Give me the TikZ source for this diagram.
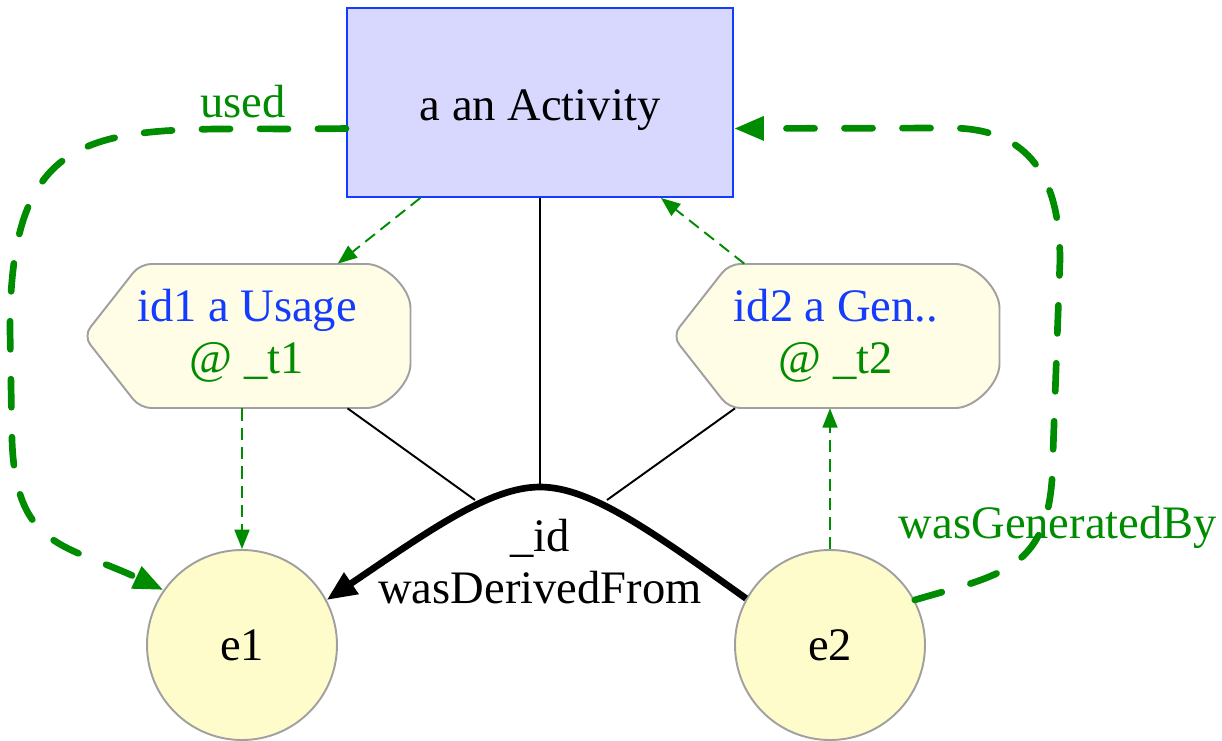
\documentclass[tikz,border=0pt]{standalone}
\usepackage{fontspec}
\setmainfont{Liberation Serif}
\usetikzlibrary{arrows.meta,backgrounds}

\definecolor{actfill}{RGB}{216,216,255}
\definecolor{actline}{RGB}{20,60,255}
\definecolor{evtfill}{RGB}{255,253,230}
\definecolor{entfill}{RGB}{255,252,204}
\definecolor{entline}{RGB}{160,160,160}
\definecolor{provgreen}{RGB}{0,140,0}
\definecolor{provblue}{RGB}{20,60,255}

\tikzset{
  activity/.style={rectangle, draw=actline, fill=actfill, line width=1.1pt, minimum width=7.72cm, minimum height=3.78cm, text height=20pt, text depth=0pt},
  entity/.style={circle, draw=entline, fill=entfill, line width=1.1pt, minimum size=3.8cm, inner sep=0pt},
  event/.style={rectangle, minimum width=6.54cm, minimum height=2.88cm, align=center, inner sep=0pt},
  eventline/.style={draw=entline, fill=evtfill, line width=1.1pt},
  link/.style={provgreen, line width=1.1pt, dash pattern=on 7pt off 4pt, -{Triangle[length=11pt,width=8.5pt]}},
  rel/.style={provgreen, line width=3.8pt, dash pattern=on 16pt off 17pt, line cap=round, -{Triangle[length=17pt,width=13pt]}},
  joinline/.style={black, line width=1.1pt},
  derive/.style={black, line width=3.8pt, -{Triangle[length=17pt,width=14pt]}},
  lbl/.style={inner sep=0pt, align=center}
}

% outline of a usage / generation box, drawn behind its node
\newcommand{\evtshape}[1]{%
  \begin{scope}[on background layer, shift={(#1.center)}]
    \draw[eventline, rounded corners=0.22cm] (-3.27,0) -- (-2.14,1.44) -- (2.17,1.44)
      arc[start angle=90, end angle=0, radius=1.1] -- (3.27,-0.34)
      arc[start angle=0, end angle=-90, radius=1.1] -- (-2.14,-1.44) -- cycle;
  \end{scope}}

\begin{document}
\begin{tikzpicture}[font=\fontsize{26.5}{29.5}\selectfont]
\useasboundingbox (0,0) rectangle (24.44,-14.8);

\node[activity] (act) at (10.8,-2.05) {a an Activity};
\node[event] (use) at (4.94,-6.72) {\textcolor{provblue}{id1 a Usage}\\\textcolor{provgreen}{@ \_t1}};
\node[event] (gen) at (16.72,-6.72) {\textcolor{provblue}{id2 a Gen..}\\\textcolor{provgreen}{@ \_t2}};
\evtshape{use}
\evtshape{gen}
\node[entity] (e1) at (4.84,-12.9) {e1};
\node[entity] (e2) at (16.6,-12.9) {e2};

\node[lbl] (dlbl) at (10.8,-11.23) {\_id\\wasDerivedFrom};
\node[lbl, text=provgreen] (ulbl) at (4.86,-2.03) {used};
\node[lbl, text=provgreen] (glbl) at (21.16,-10.54) {wasGeneratedBy};

% joins of the derivation
\coordinate (jt) at (10.8,-9.74);
\coordinate (jl) at (9.5,-10.0);
\coordinate (jr) at (12.14,-10.0);
\draw[joinline] (act) -- (jt);
\draw[joinline] (use) -- (jl);
\draw[joinline] (gen) -- (jr);
\draw[derive] (e2.151) .. controls (13.0,-10.6) and (11.8,-9.74) .. (jt)
  .. controls (9.8,-9.74) and (8.6,-10.6) .. (e1.28);

% qualified links
\draw[link] (act) -- (use);
\draw[link] (use.south -| e1.north) -- (e1.north);
\draw[link] (e2.north) -- (e2.north |- gen.south);
\draw[link] (gen) -- (act);

% used
\coordinate (ua) at (0.2,-6.6);
\coordinate (ub) at (0.24,-8.8);
\draw[rel] ([yshift=-0.52cm]act.west) to[out=181,in=90,looseness=1.5] (ua) -- (ub)
  to[out=-88,in=155,looseness=1.3] (e1.145);

% wasGeneratedBy
\coordinate (gb) at (21.04,-9.6);
\coordinate (gc) at (21.2,-5.2);
\coordinate (gd) at (19.0,-2.56);
\draw[rel] (e2.28) .. controls (20.0,-11.5) and (20.9,-11.4) .. (gb) -- (gc)
  to[out=90,in=0,looseness=1.2] (gd) -- ([yshift=-0.52cm]act.east);
\end{tikzpicture}
\end{document}
